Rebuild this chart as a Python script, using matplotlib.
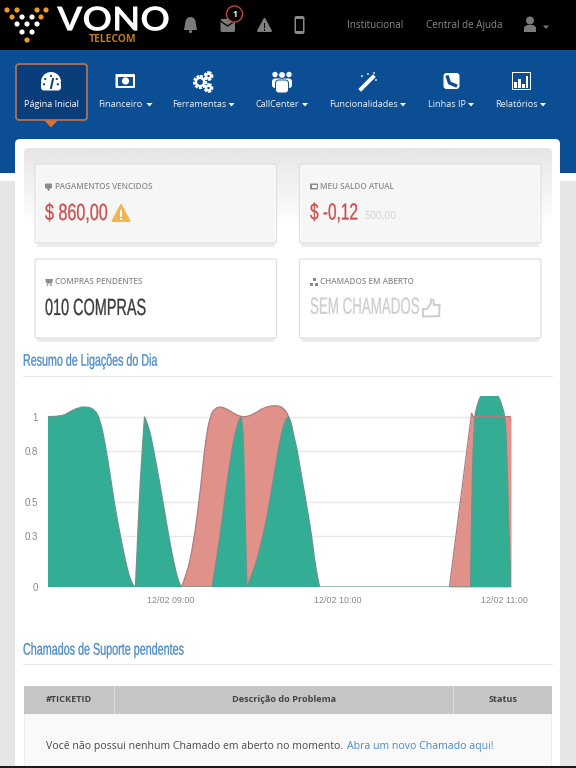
import numpy as np
import matplotlib
matplotlib.use('Agg')
import matplotlib.pyplot as plt
from matplotlib.patches import Rectangle, FancyBboxPatch, Circle, Polygon, Wedge, PathPatch
from matplotlib.patheffects import AbstractPathEffect
from matplotlib.path import Path
from matplotlib.transforms import Affine2D

# chart data: minutes after 09:00
green_x = [-44.4, -39.4, -36.4, -33.4, -30.4, -27.4, -25.6, -23.8, -22.0, -20.2, -18.4, -16.6, -14.8, -13.2,
           -12.9, -12.4, -11.2, -9.6, -8.2, -6.4, -4.0, -1.6, 0.8, 2.6, 3.7,
           14.7, 16.5, 18.9, 21.3, 23.7, 25.1, 25.8, 26.3, 26.8, 27.3,
           29.7, 32.1, 34.5, 36.9, 39.3, 41.1, 42.3, 42.9, 45.5, 46.5, 48.65, 50.7, 51.9, 53.5,
           107.9, 108.4, 109.3, 110.2, 111.4, 113.2, 116.2, 118.0, 119.2, 120.4, 121.0, 121.6, 122.5]
green_y = [1.0, 1.0, 1.03, 1.053, 1.059, 1.04, 0.98, 0.844, 0.658, 0.463, 0.307, 0.16, 0.043, 0,
           0, 0.17, 0.62, 1.0, 0.95, 0.814, 0.60, 0.365, 0.15, 0.033, 0,
           0, 0.17, 0.463, 0.756, 0.951, 1.0, 0.97, 0.70, 0.307, 0,
           0.092, 0.229, 0.404, 0.639, 0.873, 0.98, 1.0, 0.98, 0.80, 0.697, 0.498, 0.297, 0.13, 0,
           0, 0.60, 1.0, 1.059, 1.121, 1.146, 1.146, 1.121, 1.068, 1.0, 0.795, 0.404, 0]
red_x = [3.7, 5.6, 8.0, 10.5, 12.3, 14.1, 15.9, 17.7, 20.1, 22.5, 24.9, 27.3, 29.7, 33.3, 37.5, 40.5, 42.3, 44.1, 46.0, 49.0, 51.0]
red_y = [0, 0.072, 0.248, 0.561, 0.854, 1.01, 1.049, 1.059, 1.045, 1.02, 1.0, 1.0, 1.014, 1.053, 1.068, 1.053, 1.006, 0.92, 0.5, 0.2, 0]
red2_x = [100.3, 108.3, 108.9, 122.5, 122.5]
red2_y = [0, 1.02, 1.0, 1.0, 0]
y_ticks = [0, 0.3, 0.5, 0.8, 1]
y_labels = ['0', '0.3', '0.5', '0.8', '1']
x_ticks = [0, 60, 120]
x_labels = ['12/02 09:00', '12/02 10:00', '12/02 11:00']

# page texts
nav_labels = ['Financeiro', 'Ferramentas', 'CallCenter', 'Funcionalidades', 'Linhas IP', 'Relatórios']
nav_left = [98.5, 172.5, 256, 329, 428, 495]
nav_caret = [149.5, 231.5, 305, 403, 471, 543]

W, H = 576, 768
GREEN = '#33ad94'
RED = '#e0928a'
BLUE = '#0c4e94'
UI = ['Open Sans', 'DejaVu Sans']
HEAD = ['Liberation Sans', 'DejaVu Sans']

fig = plt.figure(figsize=(W / 100, H / 100), dpi=100, facecolor='white')
bg = fig.add_axes([0, 0, 1, 1])
bg.set_xlim(0, W)
bg.set_ylim(H, 0)
bg.axis('off')


# no condensed font is installed: set the text small and scale the glyphs when drawn
class Scaled(AbstractPathEffect):
    def __init__(self, sx, sy, x0, y0, lw):
        super().__init__()
        self.sx, self.sy = sx, sy
        self.x0, self.y0 = x0, y0
        self.lw = lw

    def draw_path(self, renderer, gc, tpath, affine, rgbFace=None):
        t = affine + Affine2D().translate(-self.x0, -self.y0).scale(self.sx, self.sy).translate(self.x0, self.y0)
        gc0 = renderer.new_gc()
        gc0.copy_properties(gc)
        gc0.set_linewidth(self.lw)
        gc0.set_foreground(rgbFace)
        renderer.draw_path(gc0, tpath, t, rgbFace)
        gc0.restore()


def rect(x0, y0, x1, y1, color, z=1):
    bg.add_patch(Rectangle((x0, y0), x1 - x0, y1 - y0, fc=color, ec='none', zorder=z))


def rbox(x0, y0, x1, y1, fc, ec='none', r=3, lw=1, z=2):
    p = FancyBboxPatch((x0 + r, y0 + r), x1 - x0 - 2 * r, y1 - y0 - 2 * r,
                       boxstyle='round,pad=%f,rounding_size=%f' % (r, r), fc=fc, ec=ec, lw=lw, zorder=z)
    bg.add_patch(p)
    return p


def txt(x, y, s, size, color, ha='left', family=UI, weight='normal', z=6, sy=None, sx=1, lw=0.2):
    t = bg.text(x, y, s, fontsize=size, color=color, ha=ha, va='center', family=family, fontweight=weight, zorder=z)
    if sy:
        t.set_path_effects([Scaled(sx, sy, x, H - y, lw)])
    return t


def poly(pts, color, z=5):
    bg.add_patch(Polygon(pts, closed=True, fc=color, ec='none', zorder=z))


def caret(x, y, color='white'):
    poly([(x - 3, y - 1.5), (x + 3, y - 1.5), (x, y + 2)], color, 7)


def warn(cx, cy, w, h, color, mark):
    bg.add_patch(Polygon([(cx - w / 2 + 1, cy + h / 2 - 1), (cx + w / 2 - 1, cy + h / 2 - 1), (cx, cy - h / 2 + 1)],
                         closed=True, fc=color, ec=color, lw=1.4, joinstyle='round', zorder=5))
    rect(cx - 0.9, cy - h * 0.17, cx + 0.9, cy + h * 0.2, mark, 6)
    rect(cx - 0.9, cy + h * 0.26, cx + 0.9, cy + h * 0.4, mark, 6)


def curve(x, y, close=False):
    # quadratic curve through the read points, sharp turns stay sharp
    p = np.column_stack([x, y])
    px = p * [2.775, 170]
    verts, codes = [p[0]], [Path.MOVETO]
    for i in range(1, len(p) - 1):
        a, b = px[i] - px[i - 1], px[i + 1] - px[i]
        cos = a @ b / (np.linalg.norm(a) * np.linalg.norm(b) + 1e-9)
        if cos < 0.6:
            verts.append(p[i])
            codes.append(Path.LINETO)
        else:
            verts += [p[i], (p[i] + p[i + 1]) / 2]
            codes += [Path.CURVE3, Path.CURVE3]
    verts.append(p[-1])
    codes.append(Path.LINETO)
    if close:
        verts += [(x[-1], 0), (x[0], 0), (x[0], 0)]
        codes += [Path.LINETO, Path.LINETO, Path.CLOSEPOLY]
    return Path(verts, codes)


# page background
rect(0, 0, W, 50, '#000000')
rect(0, 50, W, 173, BLUE)
rect(0, 173, W, 181, '#ffffff')
rect(0, 181, W, H, '#e6e6e6')
rbox(15, 139, 560, 780, 'white', r=5, z=1.5)
rect(0, 766, W, H, '#1a1a1a', 9)

# logo
for x, y, c in [(7, 10, 'o'), (17, 10, 'o'), (37, 10, 'o'), (46, 10, 'o'), (12, 17, 'o'), (41, 17, 'o'),
                (22, 17, 'w'), (32, 17, 'w'), (17, 24, 'w'), (27, 24, 'w'), (37, 24, 'w'),
                (22, 32, 'w'), (32, 32, 'w'), (27, 40, 'o')]:
    bg.add_patch(Circle((x, y), 2.6, fc='#f09a28' if c == 'o' else 'white', ec='none', zorder=5))
txt(57, 21, 'VONO', 15, 'white', family=['Lato', 'DejaVu Sans'], weight='bold', sx=1.76, sy=1.6, lw=0)
txt(89, 40, 'TELECOM', 7.5, '#c07a1c', weight='bold')

# top bar icons
ic = '#7a7a7a'
bg.add_patch(Wedge((190.5, 22), 5, 180, 360, fc=ic, ec='none', zorder=5))
poly([(185.5, 21.5), (195.5, 21.5), (197, 30), (184, 30)], ic)
bg.add_patch(Circle((190.5, 31.5), 1.6, fc=ic, ec='none', zorder=5))
rbox(220.5, 19, 235, 32, ic, r=1.5, z=5)
bg.plot([220.5, 227.5, 235], [21, 26, 21], color='black', lw=0.9, zorder=6)
bg.add_patch(Circle((234.5, 14), 8, fc='black', ec='#c8403a', lw=1, zorder=6))
txt(234.5, 14.3, '1', 6, 'white', ha='center', weight='bold', z=7)
warn(264.5, 25, 15, 14, '#7f7f7f', 'black')
rbox(294.5, 16, 304.5, 34, '#8a8a8a', r=2, z=5)
rect(296, 18.5, 303, 30.5, 'black', 6)
txt(347, 25.5, 'Institucional', 7.1, '#8a8a8a')
txt(426, 25.5, 'Central de Ajuda', 7.1, '#8a8a8a')
bg.add_patch(Circle((530, 20.5), 4, fc=ic, ec='none', zorder=5))
poly([(524, 32), (536, 32), (536, 27), (533, 25), (527, 25), (524, 27)], ic)
caret(546, 27, ic)

# active menu item
rbox(16, 64, 87, 120, '#0a3e7b', ec='#b5765c', r=3, lw=1.2, z=3)
poly([(44.5, 120.5), (57.5, 120.5), (51, 127.5)], '#e8702a')
txt(51.5, 104.5, 'Página Inicial', 6.6, 'white', ha='center', z=6)
for s, x, cx in zip(nav_labels, nav_left, nav_caret):
    txt(x, 104.5, s, 6.6, '#eef3f9')
    caret(cx, 104.5)

# menu icons
bg.add_patch(Wedge((51, 82), 10, 180, 360, fc='white', ec='none', zorder=5))
rbox(41, 81, 61, 90.5, 'white', r=3, z=5)
for a in [170, 215, 325, 10, 270]:
    bg.add_patch(Circle((51 + 7 * np.cos(np.radians(a)), 83 + 7 * np.sin(np.radians(a))), 1.1, fc='#0a3e7b', ec='none', zorder=6))
bg.plot([51, 53], [88, 79], color='#0a3e7b', lw=1.4, zorder=6)
rbox(115.5, 74, 135, 88, 'white', r=1, z=5)
rect(118, 76.5, 133, 85.5, BLUE, 6)
bg.add_patch(Circle((125.5, 81), 3.6, fc='white', ec='none', zorder=7))
for cx, cy, r in [(200, 82, 5.4), (208.5, 76, 3.2), (208.5, 88, 3.2)]:
    bg.add_patch(Circle((cx, cy), r, fc='none', ec='white', lw=2.4, ls=(0, (0.8, 0.35)), zorder=5))
    bg.add_patch(Circle((cx, cy), r * 0.75, fc='none', ec='white', lw=1.6, zorder=5))
# three people, the middle one outlined
for cx in [275, 289]:
    bg.add_patch(Circle((cx, 74.5), 2.7, fc='white', ec='none', zorder=5))
rbox(272, 78.5, 292, 88, 'white', r=3, z=5)
bg.add_patch(Circle((282, 75), 3.4, fc='white', ec=BLUE, lw=0.7, zorder=6))
rbox(275.5, 80, 288.5, 93, 'white', ec=BLUE, r=3.5, lw=0.7, z=6)
bg.plot([361, 373], [89, 77], color='white', lw=2.8, zorder=5)
for x, y in [(362, 76), (368, 74), (376, 80), (374, 73)]:
    bg.add_patch(Circle((x, y), 0.9, fc='white', ec='none', zorder=5))
rbox(443.5, 73, 459.5, 89, 'white', r=3, z=5)
bg.plot([447.5, 449.5, 455.5], [77, 83, 85.5], color=BLUE, lw=2.4, zorder=6)
rect(512, 71.5, 531, 90, 'white', 5)
rect(513.2, 72.7, 529.8, 88.8, BLUE, 6)
for x, t in [(515.5, 82), (519.5, 79), (523.5, 84), (527, 76)]:
    rect(x - 1.2, t, x + 1.2, 87.5, 'white', 7)

# grey fading box behind the cards
grad = np.linspace(0.9, 1, 60).reshape(-1, 1)
im = bg.imshow(grad, cmap='gray', vmin=0, vmax=1, extent=(24, 552, 228, 148), aspect='auto', zorder=1.7)
im.set_clip_path(rbox(24, 148, 552, 228, 'none', r=5, z=1.6))
bg.set_xlim(0, W)
bg.set_ylim(H, 0)

# cards
for x0, x1, y0, y1 in [(35, 276.5, 164, 243), (299.5, 541, 164, 243), (35, 276.5, 259, 338), (299.5, 541, 259, 338)]:
    rbox(x0 + 2, y0 + 3, x1 - 2, y1 + 4, '#ebebeb', r=2, z=2.5)
    rbox(x0, y0, x1, y1, (1, 1, 1, 0.6) if y0 < 200 else 'white', ec='#e0e0e0', r=2, lw=0.9, z=3)

lab = '#8c8c8c'
txt(55, 186.5, 'PAGAMENTOS VENCIDOS', 5.9, lab, weight='semibold')
txt(320, 186.5, 'MEU SALDO ATUAL', 5.9, lab, weight='semibold')
txt(55, 281.5, 'COMPRAS PENDENTES', 5.9, lab, weight='semibold')
txt(320, 281.5, 'CHAMADOS EM ABERTO', 5.9, lab, weight='semibold')
txt(45, 213.5, '$ 860,00', 11.6, '#cb4f4f', family=HEAD, sy=1.45)
txt(310, 213.5, '$ -0,12', 11.1, '#cb4f4f', family=HEAD, sy=1.51)
txt(364, 216.5, '500,00', 7.5, '#d2d2d2')
txt(45, 308.5, '010 COMPRAS', 10.4, '#3c3c3c', family=HEAD, sy=1.62)
txt(310, 308.5, 'SEM CHAMADOS', 9.6, '#cfcfcf', family=HEAD, sy=1.75)
warn(121, 213, 19, 18, '#f0b54e', 'white')

# small card icons
rbox(45, 183.5, 52, 188.5, lab, r=1, z=5)
poly([(47, 188), (50, 188), (49, 191), (48, 191)], lab)
rbox(310, 183.5, 318, 189.5, lab, r=0.5, z=5)
rect(311.5, 185, 316.5, 188, '#f2f2f2', 6)
poly([(45, 279), (53, 279), (52, 283.5), (46.5, 283.5)], lab)
bg.add_patch(Circle((47.5, 285), 0.9, fc=lab, ec='none', zorder=5))
bg.add_patch(Circle((51, 285), 0.9, fc=lab, ec='none', zorder=5))
for x, y in [(314, 279.5), (311.5, 284), (316.5, 284)]:
    rect(x - 1.5, y - 1.3, x + 1.5, y + 1.6, lab, 5)

# thumbs up outline
thumb = [(423, 309), (427, 309), (431, 303), (431, 299.5), (433.5, 300), (434, 305),
         (439.5, 305), (439, 316), (427, 316.5), (423, 316.5)]
bg.add_patch(Polygon(thumb, closed=True, fc='none', ec='#cfcfcf', lw=1.5, zorder=5))

# section titles
txt(23, 361, 'Resumo de Ligações do Dia', 7.7, '#4b8bc6', family=HEAD, sy=1.56)
rect(23, 375.5, 553, 376.5, '#e6e6e6', 2)
txt(23, 650, 'Chamados de Suporte pendentes', 7.75, '#4b8bc6', family=HEAD, sy=1.55)
rect(23, 664, 553, 665, '#e6e6e6', 2)

# tickets table
rect(24, 686, 552, 714, '#c6c6c6', 2)
rect(24, 714, 552, 766, '#f9f9f9', 2)
rect(114, 686, 115, 714, '#dcdcdc', 3)
rect(453, 686, 454, 714, '#dcdcdc', 3)
rect(24, 714, 25, 766, '#ececec', 3)
rect(551, 714, 552, 766, '#ececec', 3)
txt(69, 700, '#TICKETID', 6.6, '#444444', ha='center', weight='bold')
txt(284, 700, 'Descrição do Problema', 6.6, '#444444', ha='center', weight='bold')
txt(503, 700, 'Status', 6.6, '#444444', ha='center', weight='bold')
txt(46, 747, 'Você não possui nenhum Chamado em aberto no momento.', 7.6, '#4a4a4a')
txt(347, 747, 'Abra um novo Chamado aqui!', 7.6, '#4a8ac4')

# chart
ax = fig.add_axes([48 / W, 1 - 587 / H, (511 - 48) / W, (587 - 396) / H])
ax.patch.set_alpha(0)
ax.add_patch(PathPatch(curve(red_x, red_y, True), fc=RED, ec='none', zorder=2))
ax.add_patch(PathPatch(curve(red_x, red_y), fc='none', ec='#ad7d80', lw=0.9, zorder=2.2))
ax.fill_between(red2_x, red2_y, color=RED, lw=0, zorder=2)
ax.add_patch(PathPatch(curve(green_x, green_y, True), fc=GREEN, ec='none', zorder=3))
ax.add_patch(PathPatch(curve(green_x, green_y), fc='none', ec='#6a958c', lw=0.9, zorder=3.2))
ax.plot(red2_x[:-1], red2_y[:-1], color='#ad7d80', lw=0.9, zorder=4)
ax.set_xlim(-44.4, 122.5)
ax.set_ylim(0, 1.121)
ax.set_yticks(y_ticks, y_labels, family=['Liberation Sans'], fontsize=7, color='#888888')
ax.set_xticks(x_ticks, x_labels, family=['Liberation Sans'], fontsize=6.4, color='#888888')
ax.tick_params(length=0, axis='y', pad=7.2)
ax.tick_params(length=0, axis='x', pad=6.5)
ax.grid(axis='y', color='#e8e8e8', lw=1, zorder=1)
ax.set_axisbelow(True)
for s in ax.spines.values():
    s.set_visible(False)

fig.savefig('out.png', dpi=100)
